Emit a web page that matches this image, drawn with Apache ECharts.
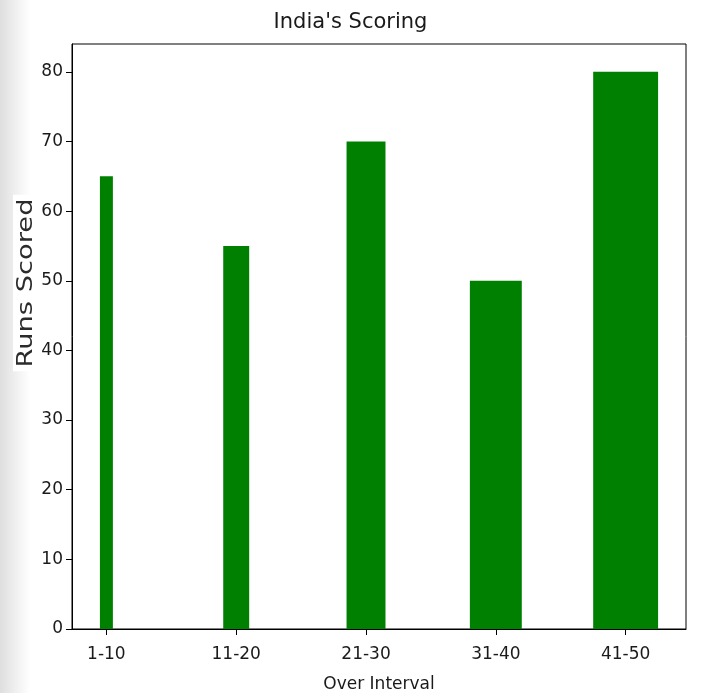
<!DOCTYPE html>
<html>
<head>
<meta charset="utf-8">
<script src="https://cdn.jsdelivr.net/npm/echarts@6/dist/echarts.min.js"></script>
<style>
	html, body { margin: 0; padding: 0; background: #fff; }
	#chart { width: 701px; height: 693px; }
</style>
</head>
<body>
<div id="chart"></div>
<script>
// chart data
const categories = [ '1-10', '11-20', '21-30', '31-40', '41-50' ];
const runsScored = [ 65, 55, 70, 50, 80 ];
const barWidths = [ 0.1, 0.2, 0.3, 0.4, 0.5 ];
const yTicks = [ 0, 10, 20, 30, 40, 50, 60, 70, 80 ];

const font = 'DejaVu Sans';
const textColor = '#1a1a1a';

const chart = echarts.init( document.getElementById( 'chart' ), null, { renderer: 'canvas' } );

const barData = categories.map( ( name, i ) => [ i, runsScored[ i ], barWidths[ i ] ] );
const xTicks = categories.map( ( name, i ) => i );

chart.setOption( {
	animation: false,
	backgroundColor: '#fff',
	title: {
		text: 'India\'s Scoring',
		left: 'center',
		top: 7,
		textStyle: { fontFamily: font, fontSize: 21, fontWeight: 'normal', color: textColor }
	},
	// screenshot shadow on the left edge and the y label box
	graphic: [
		{
			type: 'rect',
			left: 0,
			top: 0,
			z: -10,
			shape: { width: 30, height: 693 },
			style: {
				fill: new echarts.graphic.LinearGradient( 0, 0, 1, 0, [
					{ offset: 0, color: '#dedede' },
					{ offset: 0.5, color: '#efefef' },
					{ offset: 1, color: '#ffffff' }
				] )
			}
		},
		{
			type: 'text',
			x: 26,
			y: 283,
			rotation: Math.PI / 2,
			scaleX: 1.24,
			z: 10,
			style: {
				text: 'Runs Scored',
				fontFamily: font,
				fontSize: 22,
				fill: '#2b2b2b',
				align: 'center',
				verticalAlign: 'middle',
				backgroundColor: '#fff',
				padding: [ 2, 3 ]
			}
		}
	],
	grid: {
		left: 72,
		right: 15,
		top: 44,
		bottom: 64,
		outerBoundsMode: 'none',
		show: true,
		borderColor: '#000',
		borderWidth: 1
	},
	xAxis: {
		type: 'value',
		min: -0.265,
		max: 4.465,
		name: 'Over Interval',
		nameLocation: 'middle',
		nameGap: 47,
		nameTextStyle: { fontFamily: font, fontSize: 17, color: textColor },
		axisLine: { show: true, onZero: false, lineStyle: { color: '#000', width: 1 } },
		axisTick: { show: true, length: 6, customValues: xTicks, lineStyle: { color: '#000' } },
		axisLabel: {
			customValues: xTicks,
			margin: 17,
			fontFamily: font,
			fontSize: 17,
			color: textColor,
			formatter: ( v ) => categories[ Math.round( v ) ]
		},
		splitLine: { show: false }
	},
	yAxis: {
		type: 'value',
		min: 0,
		max: 84,
		axisLine: { show: true, onZero: false, lineStyle: { color: '#000', width: 1 } },
		axisTick: { show: true, length: 6, customValues: yTicks, lineStyle: { color: '#000' } },
		axisLabel: {
			customValues: yTicks,
			margin: 9,
			fontFamily: font,
			fontSize: 17,
			color: textColor
		},
		splitLine: { show: false }
	},
	series: [
		{
			type: 'custom',
			data: barData,
			encode: { x: 0, y: 1 },
			renderItem: function ( params, api ) {
				const x = api.value( 0 );
				const y = api.value( 1 );
				const w = api.value( 2 );
				const topLeft = api.coord( [ x - w / 2, y ] );
				const bottomRight = api.coord( [ x + w / 2, 0 ] );
				return {
					type: 'rect',
					shape: {
						x: topLeft[ 0 ],
						y: topLeft[ 1 ],
						width: bottomRight[ 0 ] - topLeft[ 0 ],
						height: bottomRight[ 1 ] - topLeft[ 1 ]
					},
					style: { fill: '#008000' }
				};
			}
		}
	]
} );
</script>
</body>
</html>
